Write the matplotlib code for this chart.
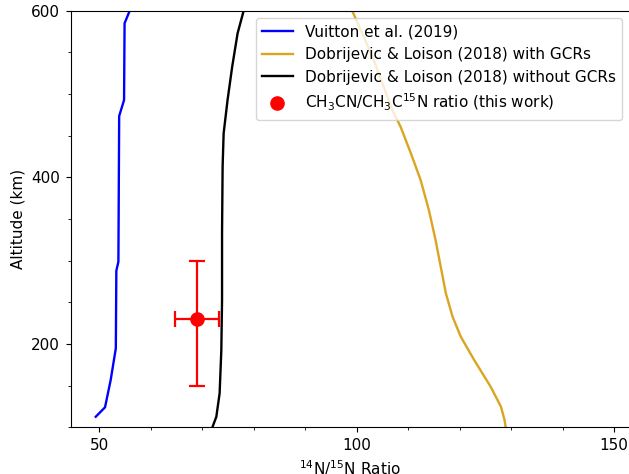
import numpy as np
import matplotlib
matplotlib.use('Agg')
import matplotlib.pyplot as plt
from matplotlib.ticker import MultipleLocator

plt.rcParams['font.size'] = 11

# Vuitton et al. (2019)
vuitton_ratio = [49.3, 51.1, 52.2, 53.2, 53.3, 53.7, 53.85, 54.8, 54.9, 55.9]
vuitton_alt = [112.8, 124.1, 156.8, 194.9, 288.0, 298.8, 473.6, 492.8, 584.9, 600.0]

# Dobrijevic & Loison (2018) with GCRs
gcr_ratio = [129.0, 128.9, 128.7, 128.0, 126.0, 122.8, 120.2, 118.6, 117.3,
             116.3, 115.3, 114.0, 112.4, 110.5, 108.5, 106.9, 103.3, 101.2, 99.1]
gcr_alt = [95.0, 100.8, 108.8, 124.8, 148.8, 180.8, 208.8, 232.8, 260.9,
           292.8, 324.8, 360.8, 396.8, 428.9, 460.8, 480.8, 540.8, 571.0, 600.0]

# Dobrijevic & Loison (2018) without GCRs
nogcr_ratio = [71.6, 71.88, 72.72, 73.36, 73.69, 73.83, 73.83, 73.94, 74.14,
               74.9, 75.8, 76.85, 78.03]
nogcr_alt = [95.0, 98.9, 112.8, 140.9, 192.8, 252.8, 332.9, 412.8, 452.9,
             492.8, 532.8, 572.9, 600.0]

# this work
obs_ratio = 68.9
obs_ratio_err = 4.3
obs_alt = 230
obs_alt_err = [[80], [70]]

fig = plt.figure(figsize=(6.29, 4.74), dpi=100)
ax = fig.add_axes([0.1121, 0.0983, 0.889, 0.8791])

ax.plot(vuitton_ratio, vuitton_alt, color='blue', lw=1.7, label='Vuitton et al. (2019)')
ax.plot(gcr_ratio, gcr_alt, color='goldenrod', lw=1.7,
        label='Dobrijevic & Loison (2018) with GCRs')
ax.plot(nogcr_ratio, nogcr_alt, color='black', lw=1.7,
        label='Dobrijevic & Loison (2018) without GCRs')
ax.errorbar(obs_ratio, obs_alt, xerr=obs_ratio_err, yerr=obs_alt_err,
            fmt='none', ecolor='red', elinewidth=1.6, capsize=5.5, capthick=1.6)
ax.plot(obs_ratio, obs_alt, 'o', color='red', ms=9.5, linestyle='none',
        label='CH$_3$CN/CH$_3$C$^{15}$N ratio (this work)')

ax.set_xlim(44.4, 153)
ax.set_ylim(100, 600)
ax.xaxis.set_major_locator(MultipleLocator(50))
ax.xaxis.set_minor_locator(MultipleLocator(10))
ax.yaxis.set_major_locator(MultipleLocator(200))
ax.yaxis.set_minor_locator(MultipleLocator(50))
ax.tick_params(which='major', length=3.9)
ax.tick_params(which='minor', length=2.2)

ax.set_xlabel('$^{14}$N/$^{15}$N Ratio')
ax.set_ylabel('Altitude (km)')
ax.legend(loc='upper right')

fig.savefig('out.png', dpi=100)
